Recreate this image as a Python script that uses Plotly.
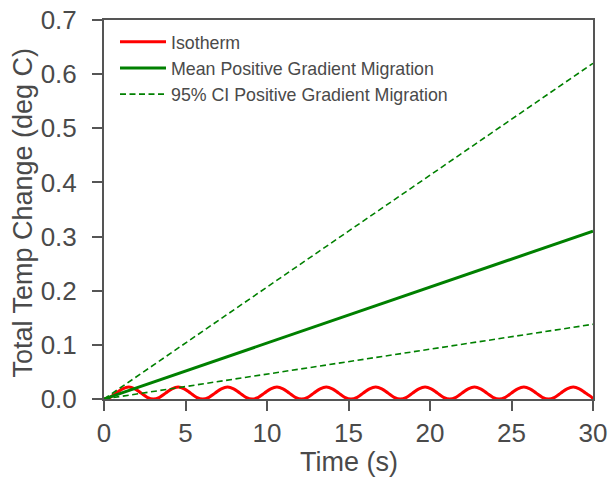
import plotly.graph_objects as go

iso_t = [0.0, 0.38, 0.76, 1.14, 1.52, 1.89, 2.27, 2.65, 3.03,
         3.41, 3.79, 4.17, 4.55, 4.92, 5.30, 5.68, 6.06,
         6.44, 6.82, 7.20, 7.58, 7.95, 8.33, 8.71, 9.09,
         9.47, 9.85, 10.23, 10.61, 10.98, 11.36, 11.74, 12.12,
         12.50, 12.88, 13.26, 13.64, 14.01, 14.39, 14.77, 15.15,
         15.53, 15.91, 16.29, 16.67, 17.04, 17.42, 17.80, 18.18,
         18.56, 18.94, 19.32, 19.70, 20.07, 20.45, 20.83, 21.21,
         21.59, 21.97, 22.35, 22.73, 23.10, 23.48, 23.86, 24.24,
         24.62, 25.00, 25.38, 25.76, 26.13, 26.51, 26.89, 27.27,
         27.65, 28.03, 28.41, 28.79, 29.16, 29.54, 29.92, 30.0]
iso_v = [0.0, 0.0032, 0.011, 0.0188, 0.022, 0.0188, 0.011, 0.0032, 0.0,
         0.0032, 0.011, 0.0188, 0.022, 0.0188, 0.011, 0.0032, 0.0,
         0.0032, 0.011, 0.0188, 0.022, 0.0188, 0.011, 0.0032, 0.0,
         0.0032, 0.011, 0.0188, 0.022, 0.0188, 0.011, 0.0032, 0.0,
         0.0032, 0.011, 0.0188, 0.022, 0.0188, 0.011, 0.0032, 0.0,
         0.0032, 0.011, 0.0188, 0.022, 0.0188, 0.011, 0.0032, 0.0,
         0.0032, 0.011, 0.0188, 0.022, 0.0188, 0.011, 0.0032, 0.0,
         0.0032, 0.011, 0.0188, 0.022, 0.0188, 0.011, 0.0032, 0.0,
         0.0032, 0.011, 0.0188, 0.022, 0.0188, 0.011, 0.0032, 0.0,
         0.0032, 0.011, 0.0188, 0.022, 0.0188, 0.011, 0.0032, 0.0, 0.0]

# Gradient migration lines
grad_t = [0.0, 30.0]
mean_v = [0.0, 0.31]
ci_upper_v = [0.0, 0.62]
ci_lower_v = [0.0, 0.138]

x_ticks = [0, 5, 10, 15, 20, 25, 30]
y_ticks = [0.0, 0.1, 0.2, 0.3, 0.4, 0.5, 0.6, 0.7]
y_tick_labels = ["0.0", "0.1", "0.2", "0.3", "0.4", "0.5", "0.6", "0.7"]
x_title = "Time (s)"
y_title = "Total Temp Change (deg C)"

fig = go.Figure()
fig.add_trace(go.Scatter(x=iso_t, y=iso_v, mode="lines", name="Isotherm",
                         line=dict(color="red", width=3, shape="spline")))
fig.add_trace(go.Scatter(x=grad_t, y=mean_v, mode="lines",
                         name="Mean Positive Gradient Migration",
                         line=dict(color="green", width=3)))
fig.add_trace(go.Scatter(x=grad_t, y=ci_upper_v, mode="lines",
                         name="95% CI Positive Gradient Migration",
                         legendgroup="ci",
                         line=dict(color="green", width=1.6, dash="6px,3.5px")))
fig.add_trace(go.Scatter(x=grad_t, y=ci_lower_v, mode="lines",
                         name="95% CI Positive Gradient Migration",
                         legendgroup="ci", showlegend=False,
                         line=dict(color="green", width=1.6, dash="6px,3.5px")))

axis_common = dict(showline=True, linecolor="#555555", linewidth=2,
                   mirror=True, ticks="outside", ticklen=10, tickwidth=2,
                   tickcolor="#555555", showgrid=False, zeroline=False,
                   automargin=False, ticklabeloverflow="allow",
                   tickfont=dict(size=26, color="#4a4a4a"))

fig.update_xaxes(range=[0, 30], tickvals=x_ticks, **axis_common)
fig.update_yaxes(range=[0, 0.7], tickvals=y_ticks, ticktext=y_tick_labels,
                 ticklabelstandoff=10, **axis_common)

title_font = dict(size=27, color="#4a4a4a",
                  family="Liberation Sans, Arial, sans-serif")
fig.add_annotation(text=x_title, xref="paper", yref="paper",
                   x=0.5, y=-0.1675, xanchor="center", yanchor="middle",
                   showarrow=False, font=title_font)
fig.add_annotation(text=y_title, xref="paper", yref="paper",
                   x=-0.1665, y=0.4908, xanchor="center", yanchor="middle",
                   textangle=-90, showarrow=False, font=title_font)

fig.update_layout(
    width=609, height=483,
    margin=dict(l=104, r=16, t=20, b=84),
    plot_bgcolor="white", paper_bgcolor="white",
    font=dict(family="Liberation Sans, Arial, sans-serif", color="#4a4a4a"),
    legend=dict(x=0.0225, y=0.99, xanchor="left", yanchor="top",
                bgcolor="rgba(0,0,0,0)", font=dict(size=17.8, color="#4a4a4a"),
                tracegroupgap=0, itemwidth=46),
    showlegend=True,
)

fig.write_html("out.html", config={"displayModeBar": False},
               post_script="document.body.style.margin='0';"
                           "document.body.style.overflow='hidden';")
